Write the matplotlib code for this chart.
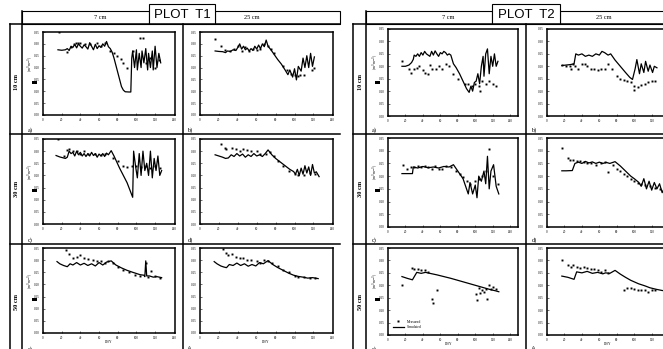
import matplotlib
matplotlib.use("Agg")
import matplotlib.pyplot as plt
from matplotlib.lines import Line2D
from matplotlib.patches import Rectangle

W, H = 663, 349
plt.rcParams['font.family'] = ['Liberation Serif', 'DejaVu Serif']

# ---- data: DOY and volumetric water content (m3 m-3) ----
# PLOT T1, 7 cm, 10 cm depth (a)
t1a_sim_doy = [16, 20, 24, 26, 28, 30, 32, 34, 36, 38, 40, 42, 44, 46, 48, 50, 52, 54, 56, 58, 60, 62, 64, 66, 68, 70,
               72, 74, 76, 78, 80, 82, 84, 86, 88, 92, 94, 95, 96, 98, 100, 101, 103, 105, 106, 108, 110, 112, 113,
               115, 117, 118, 120, 122, 124, 126]
t1a_sim = [0.275, 0.273, 0.275, 0.28, 0.272, 0.29, 0.285, 0.298, 0.283, 0.3, 0.29, 0.282, 0.296, 0.288, 0.278, 0.305,
           0.29, 0.275, 0.298, 0.28, 0.292, 0.285, 0.3, 0.29, 0.31, 0.288, 0.28, 0.265, 0.24, 0.21, 0.18, 0.15, 0.12,
           0.105, 0.098, 0.097, 0.097, 0.24, 0.27, 0.2, 0.275, 0.19, 0.26, 0.2, 0.27, 0.22, 0.28, 0.19, 0.26, 0.2,
           0.27, 0.19, 0.29, 0.2, 0.26, 0.22]
t1a_obs_doy = [17, 26, 30, 33, 35, 37, 40, 45, 50, 58, 62, 66, 72, 76, 79, 84, 86, 90, 96, 104, 107, 110, 115, 120, 124]
t1a_obs = [0.35, 0.265, 0.285, 0.3, 0.305, 0.305, 0.303, 0.3, 0.298, 0.303, 0.29, 0.305, 0.27, 0.26, 0.25, 0.235,
           0.22, 0.2, 0.27, 0.325, 0.325, 0.22, 0.24, 0.2, 0.23]

# PLOT T1, 25 cm, 10 cm depth (b)
t1b_sim_doy = [16, 20, 24, 27, 29, 32, 35, 38, 40, 42, 44, 46, 48, 50, 52, 54, 56, 58, 60, 62, 64, 66, 68, 70, 72, 75,
               78, 82, 86, 90, 93, 95, 98, 100, 102, 104, 107, 109, 111, 113, 115, 117, 119, 121]
t1b_sim = [0.27, 0.268, 0.267, 0.263, 0.27, 0.268, 0.275, 0.272, 0.285, 0.3, 0.278, 0.29, 0.275, 0.282, 0.27, 0.28,
           0.272, 0.29, 0.278, 0.295, 0.28, 0.3, 0.288, 0.316, 0.29, 0.275, 0.258, 0.235, 0.215, 0.19, 0.17, 0.19,
           0.16, 0.195, 0.148, 0.205, 0.185, 0.24, 0.2, 0.25, 0.2, 0.26, 0.205, 0.245]
t1b_obs_doy = [16, 22, 26, 32, 36, 40, 44, 48, 52, 56, 60, 64, 68, 72, 75, 78, 88, 92, 96, 100, 104, 106, 110, 118, 121]
t1b_obs = [0.32, 0.29, 0.275, 0.27, 0.28, 0.29, 0.27, 0.285, 0.27, 0.28, 0.275, 0.28, 0.3, 0.29, 0.28, 0.26, 0.205,
           0.19, 0.175, 0.17, 0.165, 0.17, 0.17, 0.19, 0.2]

# PLOT T1, 7 cm, 30 cm depth (c)
t1c_sim_doy = [14, 18, 22, 24, 26, 28, 30, 32, 34, 36, 38, 40, 42, 44, 46, 48, 50, 52, 54, 56, 58, 60, 62, 64, 66, 68,
               70, 73, 76, 79, 82, 86, 90, 93, 96, 97, 99, 101, 103, 105, 107, 109, 111, 113, 115, 117, 119, 121, 123,
               125, 127]
t1c_sim = [0.282, 0.276, 0.272, 0.27, 0.275, 0.3, 0.29, 0.295, 0.28, 0.3, 0.285, 0.295, 0.28, 0.29, 0.278, 0.29,
           0.28, 0.295, 0.282, 0.29, 0.275, 0.288, 0.28, 0.29, 0.278, 0.292, 0.285, 0.302, 0.28, 0.255, 0.23, 0.2,
           0.17, 0.14, 0.11, 0.3, 0.24, 0.19, 0.29, 0.2, 0.3, 0.22, 0.25, 0.2, 0.3, 0.19, 0.27, 0.22, 0.28, 0.2, 0.22]
t1c_obs_doy = [16, 22, 26, 28, 32, 36, 40, 44, 48, 56, 62, 66, 75, 80, 86, 90, 95, 100, 105, 110, 115, 120, 125]
t1c_obs = [0.35, 0.28, 0.305, 0.31, 0.3, 0.3, 0.29, 0.3, 0.29, 0.29, 0.285, 0.29, 0.27, 0.26, 0.24, 0.235, 0.24,
           0.24, 0.235, 0.24, 0.23, 0.24, 0.23]

# PLOT T1, 25 cm, 30 cm depth (d)
t1d_sim_doy = [16, 20, 24, 27, 30, 33, 36, 39, 42, 45, 48, 51, 54, 57, 60, 63, 66, 69, 72, 76, 80, 85, 90, 95, 99,
               101, 103, 105, 107, 109, 111, 113, 115, 117, 119, 121, 123, 126]
t1d_sim = [0.285, 0.28, 0.275, 0.27, 0.272, 0.285, 0.278, 0.29, 0.28, 0.288, 0.275, 0.285, 0.278, 0.29, 0.28, 0.285,
           0.278, 0.29, 0.305, 0.285, 0.27, 0.255, 0.24, 0.225, 0.216, 0.205, 0.225, 0.2, 0.23, 0.205, 0.24, 0.21,
           0.235, 0.2, 0.245, 0.21, 0.215, 0.195]
t1d_obs_doy = [22, 26, 28, 34, 38, 42, 46, 50, 54, 60, 64, 70, 74, 78, 82, 88, 94, 100, 104, 110, 116, 122]
t1d_obs = [0.33, 0.315, 0.31, 0.315, 0.31, 0.3, 0.31, 0.305, 0.3, 0.3, 0.29, 0.29, 0.295, 0.28, 0.26, 0.24, 0.22,
           0.205, 0.2, 0.2, 0.21, 0.205]

# PLOT T1, 7 cm, 50 cm depth (e)
t1e_sim_doy = [15, 18, 22, 26, 29, 32, 36, 40, 44, 48, 52, 56, 60, 64, 68, 73, 78, 84, 90, 96, 100, 104, 108, 109,
               110, 111, 114, 118, 122, 127]
t1e_sim = [0.294, 0.285, 0.278, 0.273, 0.285, 0.28, 0.29, 0.28, 0.287, 0.278, 0.285, 0.276, 0.29, 0.28, 0.292,
           0.297, 0.28, 0.268, 0.258, 0.25, 0.245, 0.24, 0.238, 0.232, 0.297, 0.235, 0.235, 0.23, 0.232, 0.228]
t1e_obs_doy = [25, 28, 32, 36, 40, 44, 48, 54, 58, 62, 66, 70, 75, 80, 86, 92, 98, 104, 110, 112, 116, 120, 125]
t1e_obs = [0.34, 0.325, 0.31, 0.315, 0.32, 0.31, 0.305, 0.3, 0.295, 0.295, 0.29, 0.295, 0.29, 0.27, 0.26, 0.25,
           0.24, 0.235, 0.29, 0.23, 0.255, 0.235, 0.225]

# PLOT T1, 25 cm, 50 cm depth (f)
t1f_sim_doy = [15, 18, 22, 25, 28, 31, 35, 39, 43, 47, 51, 55, 59, 63, 67, 72, 77, 82, 88, 94, 99, 104, 109, 114,
               119, 125]
t1f_sim = [0.294, 0.285, 0.276, 0.272, 0.269, 0.282, 0.278, 0.288, 0.278, 0.285, 0.275, 0.282, 0.276, 0.29, 0.285,
           0.298, 0.282, 0.27, 0.258, 0.246, 0.238, 0.233, 0.23, 0.226, 0.228, 0.224]
t1f_obs_doy = [24, 27, 30, 34, 38, 42, 46, 50, 54, 60, 64, 68, 72, 76, 82, 88, 94, 100, 104, 110, 116, 122]
t1f_obs = [0.345, 0.33, 0.32, 0.325, 0.315, 0.31, 0.31, 0.3, 0.3, 0.295, 0.29, 0.3, 0.295, 0.29, 0.275, 0.26, 0.25,
           0.235, 0.23, 0.23, 0.225, 0.225]

# PLOT T2, 7 cm, 10 cm depth (a)
t2a_sim_doy = [16, 20, 24, 27, 29, 30, 32, 34, 36, 38, 40, 42, 44, 46, 48, 50, 52, 54, 56, 58, 60, 62, 64, 66, 68, 70,
               72, 75, 78, 82, 86, 90, 93, 95, 97, 99, 101, 103, 105, 107, 109, 110, 112, 114, 116, 118, 120, 122, 124,
               126]
t2a_sim = [0.2, 0.2, 0.205, 0.215, 0.228, 0.245, 0.24, 0.25, 0.24, 0.255, 0.245, 0.26, 0.25, 0.245, 0.24, 0.26,
           0.245, 0.262, 0.25, 0.24, 0.255, 0.25, 0.26, 0.255, 0.245, 0.25, 0.245, 0.21, 0.195, 0.17, 0.14, 0.11,
           0.095, 0.12, 0.1, 0.135, 0.14, 0.17, 0.13, 0.2, 0.24, 0.16, 0.25, 0.27, 0.17, 0.24, 0.2, 0.25, 0.2, 0.22]
t2a_obs_doy = [16, 24, 26, 30, 33, 36, 40, 42, 46, 48, 50, 55, 58, 62, 66, 70, 75, 80, 88, 92, 96, 100, 104, 106,
               108, 112, 116, 120, 124]
t2a_obs = [0.22, 0.19, 0.175, 0.19, 0.195, 0.2, 0.185, 0.175, 0.17, 0.205, 0.19, 0.19, 0.2, 0.19, 0.21, 0.2, 0.17,
           0.15, 0.13, 0.13, 0.12, 0.13, 0.12, 0.1, 0.14, 0.13, 0.14, 0.13, 0.12]

# PLOT T2, 25 cm, 10 cm depth (b)
t2b_sim_doy = [17, 22, 27, 31, 33, 36, 40, 44, 48, 52, 56, 60, 63, 66, 70, 73, 78, 84, 90, 95, 98, 101, 103, 106,
               108, 111, 113, 116, 118, 121, 123, 126]
t2b_sim = [0.203, 0.205, 0.207, 0.21, 0.25, 0.245, 0.25, 0.24, 0.245, 0.24, 0.25, 0.245, 0.26, 0.255, 0.245, 0.25,
           0.225, 0.2, 0.175, 0.155, 0.147, 0.19, 0.227, 0.17, 0.21, 0.175, 0.22, 0.18, 0.205, 0.175, 0.2, 0.194]
t2b_obs_doy = [17, 22, 26, 28, 30, 32, 36, 40, 44, 46, 50, 54, 58, 62, 66, 70, 74, 80, 84, 88, 92, 96, 100, 100,
               104, 108, 112, 116, 120, 124]
t2b_obs = [0.205, 0.2, 0.2, 0.19, 0.21, 0.2, 0.19, 0.21, 0.21, 0.2, 0.19, 0.19, 0.185, 0.19, 0.19, 0.21, 0.19, 0.16,
           0.15, 0.145, 0.14, 0.135, 0.12, 0.105, 0.115, 0.125, 0.13, 0.135, 0.14, 0.14]

# PLOT T2, 7 cm, 30 cm depth (c)
t2c_sim_doy = [16, 22, 28, 29, 34, 40, 46, 52, 58, 64, 70, 75, 80, 86, 92, 94, 97, 100, 102, 104, 107, 110, 112, 114,
               116, 118, 121, 124, 127]
t2c_sim = [0.21, 0.21, 0.21, 0.236, 0.232, 0.238, 0.233, 0.236, 0.232, 0.238, 0.236, 0.245, 0.22, 0.19, 0.13, 0.175,
           0.13, 0.165, 0.115, 0.2, 0.18, 0.22, 0.17, 0.278, 0.15, 0.22, 0.245, 0.16, 0.13]
t2c_obs_doy = [17, 22, 26, 30, 34, 38, 42, 46, 50, 54, 58, 62, 66, 72, 78, 82, 86, 90, 94, 100, 104, 108, 112, 116,
               120, 126]
t2c_obs = [0.245, 0.23, 0.235, 0.235, 0.24, 0.235, 0.24, 0.235, 0.23, 0.24, 0.23, 0.23, 0.24, 0.235, 0.22, 0.21,
           0.195, 0.18, 0.17, 0.18, 0.19, 0.2, 0.22, 0.305, 0.2, 0.17]

# PLOT T2, 25 cm, 30 cm depth (d)
t2d_sim_doy = [17, 22, 29, 32, 36, 40, 44, 48, 52, 56, 60, 64, 68, 72, 78, 84, 90, 96, 100, 105, 108, 111, 114, 117,
               120, 123, 126, 129, 132, 134]
t2d_sim = [0.221, 0.221, 0.222, 0.25, 0.255, 0.25, 0.258, 0.252, 0.256, 0.25, 0.255, 0.25, 0.254, 0.25, 0.257, 0.24,
           0.22, 0.2, 0.19, 0.176, 0.16, 0.19, 0.15, 0.18, 0.145, 0.175, 0.15, 0.17, 0.135, 0.15]
t2d_obs_doy = [17, 24, 26, 30, 34, 38, 42, 46, 50, 56, 62, 66, 70, 76, 80, 84, 88, 92, 96, 100, 104, 108, 112, 118,
               124, 130]
t2d_obs = [0.31, 0.27, 0.265, 0.265, 0.26, 0.26, 0.255, 0.25, 0.25, 0.245, 0.25, 0.255, 0.215, 0.245, 0.23, 0.22,
           0.21, 0.2, 0.19, 0.18, 0.175, 0.17, 0.165, 0.16, 0.155, 0.15]

# PLOT T2, 7 cm, 50 cm depth (e)
t2e_sim_doy = [16, 22, 28, 33, 38, 43, 48, 56, 64, 72, 80, 88, 96, 104, 112, 118, 123, 127]
t2e_sim = [0.235, 0.228, 0.222, 0.252, 0.248, 0.252, 0.248, 0.242, 0.235, 0.228, 0.22, 0.212, 0.204, 0.196, 0.188,
           0.182, 0.178, 0.174]
t2e_obs_doy = [16, 27, 30, 34, 38, 42, 46, 50, 52, 56, 101, 102, 104, 106, 108, 110, 112, 114, 116, 118, 120, 124]
t2e_obs = [0.2, 0.27, 0.265, 0.265, 0.26, 0.26, 0.255, 0.145, 0.13, 0.18, 0.165, 0.14, 0.19, 0.17, 0.18, 0.175,
           0.185, 0.145, 0.2, 0.185, 0.195, 0.185]

# PLOT T2, 25 cm, 50 cm depth (f)
t2f_sim_doy = [17, 24, 31, 34, 40, 46, 52, 58, 64, 67, 72, 78, 84, 90, 96, 105, 112, 118, 125, 132, 140]
t2f_sim = [0.237, 0.232, 0.224, 0.254, 0.25, 0.256, 0.248, 0.252, 0.246, 0.25, 0.248, 0.26, 0.245, 0.232, 0.22,
           0.206, 0.198, 0.19, 0.184, 0.179, 0.176]
t2f_obs_doy = [17, 24, 28, 30, 34, 38, 42, 46, 50, 54, 58, 62, 66, 70, 88, 92, 96, 100, 104, 108, 112, 116, 120, 124]
t2f_obs = [0.3, 0.28, 0.275, 0.28, 0.275, 0.27, 0.275, 0.27, 0.265, 0.265, 0.26, 0.255, 0.26, 0.25, 0.18, 0.19,
           0.19, 0.185, 0.18, 0.18, 0.18, 0.175, 0.18, 0.18]

y_ticks = [0.00, 0.05, 0.10, 0.15, 0.20, 0.25, 0.30, 0.35]
x_ticks = [0, 20, 40, 60, 80, 100, 120, 140]

fig = plt.figure(figsize=(W / 100, H / 100), dpi=100)


def fx(x):
    return x / W


def fy(y):
    return 1 - y / H


def fline(x0, y0, x1, y1, lw=1.1):
    fig.add_artist(Line2D([fx(x0), fx(x1)], [fy(y0), fy(y1)], color='black', lw=lw))


def fbox(x0, y0, x1, y1, lw=0.8):
    fig.add_artist(Rectangle((fx(x0), fy(y1)), fx(x1) - fx(x0), fy(y0) - fy(y1),
                             facecolor='white', edgecolor='black', lw=lw))


def ftext(x, y, s, **kw):
    fig.text(fx(x), fy(y), s, ha='center', va='center', **kw)


def panel(x0, y0, x1, y1, xmax, sim_x, sim_y, obs_x, obs_y, ylab=False, xlab=False):
    ax = fig.add_axes([fx(x0), fy(y1), fx(x1) - fx(x0), fy(y0) - fy(y1)])
    ax.plot(sim_x, sim_y, color='black', lw=0.9, label='Simulated')
    ax.plot(obs_x, obs_y, ls='none', marker='s', ms=1.4, color='black', mec='none', label='Measured')
    ax.set_xlim(0, xmax)
    ax.set_ylim(0, 0.35)
    ax.set_xticks(x_ticks)
    ax.set_yticks(y_ticks)
    ax.set_yticklabels(['%.2f' % v for v in y_ticks])
    ax.tick_params(labelsize=2.3, length=1.2, width=0.4, pad=2.5, direction='in')
    for s in ax.spines.values():
        s.set_linewidth(1.1)
    if xlab:
        ax.text(70, -0.028, 'DOY', fontsize=2.5, ha='center', va='top')
    if ylab:
        ax.text(-0.092, 0.62, '(m$^3$ m$^{-3}$)', transform=ax.transAxes, rotation=90,
                fontsize=2.6, ha='center', va='center')
    return ax


# ---- frame lines and headers ----
for off, x_out, x_in, x_sep, x_end, name, hb in [
        (0, 10, 22, 183, 340, 'PLOT  T1', (149, 215)),
        (1, 353, 366, 526, 663, 'PLOT  T2', (492, 560))]:
    fline(x_out, 24, x_out, H)
    fline(x_in, 11, x_in, H)
    fline(x_sep, 24, x_sep, H)
    for yy in (24, 134, 244):
        fline(x_out, yy, x_end, yy)
    fbox(x_in, 11, hb[0], 24)
    fbox(hb[1], 11, x_end + (30 if off else 0), 24)
    fbox(hb[0], 4, hb[1], 24)
    ftext((hb[0] + hb[1]) / 2, 14.5, name, fontsize=9.5, family=['Liberation Sans', 'DejaVu Sans'])

ftext(100, 17.5, '7 cm', fontsize=4.5)
ftext(252, 17.5, '25 cm', fontsize=4.5)
ftext(448, 17.5, '7 cm', fontsize=4.5)
ftext(604, 17.5, '25 cm', fontsize=4.5)

for xr in (16, 360):
    for yr, lab in [(82, '10 cm'), (189, '30 cm'), (302, '50 cm')]:
        ftext(xr, yr, lab, fontsize=4.5, fontweight='bold', rotation=90)

# ---- panels ----
panel(43, 32, 175, 115, 141.3, t1a_sim_doy, t1a_sim, t1a_obs_doy, t1a_obs, ylab=True)
panel(200, 32, 333, 115, 140.7, t1b_sim_doy, t1b_sim, t1b_obs_doy, t1b_obs)
panel(43, 139, 175, 224, 141.3, t1c_sim_doy, t1c_sim, t1c_obs_doy, t1c_obs, ylab=True)
panel(200, 139, 333, 224, 140.7, t1d_sim_doy, t1d_sim, t1d_obs_doy, t1d_obs)
panel(43, 248, 175, 333, 141.3, t1e_sim_doy, t1e_sim, t1e_obs_doy, t1e_obs, ylab=True, xlab=True)
panel(200, 248, 333, 333, 140.7, t1f_sim_doy, t1f_sim, t1f_obs_doy, t1f_obs, xlab=True)

panel(388, 29, 518, 116, 149, t2a_sim_doy, t2a_sim, t2a_obs_doy, t2a_obs, ylab=True)
panel(547, 29, 677, 116, 149, t2b_sim_doy, t2b_sim, t2b_obs_doy, t2b_obs)
panel(388, 138, 518, 227, 149, t2c_sim_doy, t2c_sim, t2c_obs_doy, t2c_obs, ylab=True)
panel(547, 138, 677, 227, 149, t2d_sim_doy, t2d_sim, t2d_obs_doy, t2d_obs)
ax_e = panel(388, 248, 518, 335, 149, t2e_sim_doy, t2e_sim, t2e_obs_doy, t2e_obs, ylab=True, xlab=True)
panel(547, 248, 677, 335, 149, t2f_sim_doy, t2f_sim, t2f_obs_doy, t2f_obs, xlab=True)

h, l = ax_e.get_legend_handles_labels()
ax_e.legend([h[1], h[0]], [l[1], l[0]], loc='lower left', bbox_to_anchor=(0.02, 0.04), fontsize=2.6,
            frameon=False, handlelength=3, markerscale=1.2, borderaxespad=0.2)

# black marker squares beside the y labels
for xs in (32, 375):
    for ys in (81, 189, 298):
        fig.add_artist(Rectangle((fx(xs), fy(ys + 3)), fx(4.5), 3 / H, facecolor='black', edgecolor='none'))

# panel letters
for xl, letters in [(30, 'ace'), (190, 'bdf'), (374, 'ace'), (534, 'bdf')]:
    for yl, ch in zip((130, 240, 349), letters):
        ftext(xl, yl, ch + ')', fontsize=4.5)

fig.savefig('out.png', dpi=100)
